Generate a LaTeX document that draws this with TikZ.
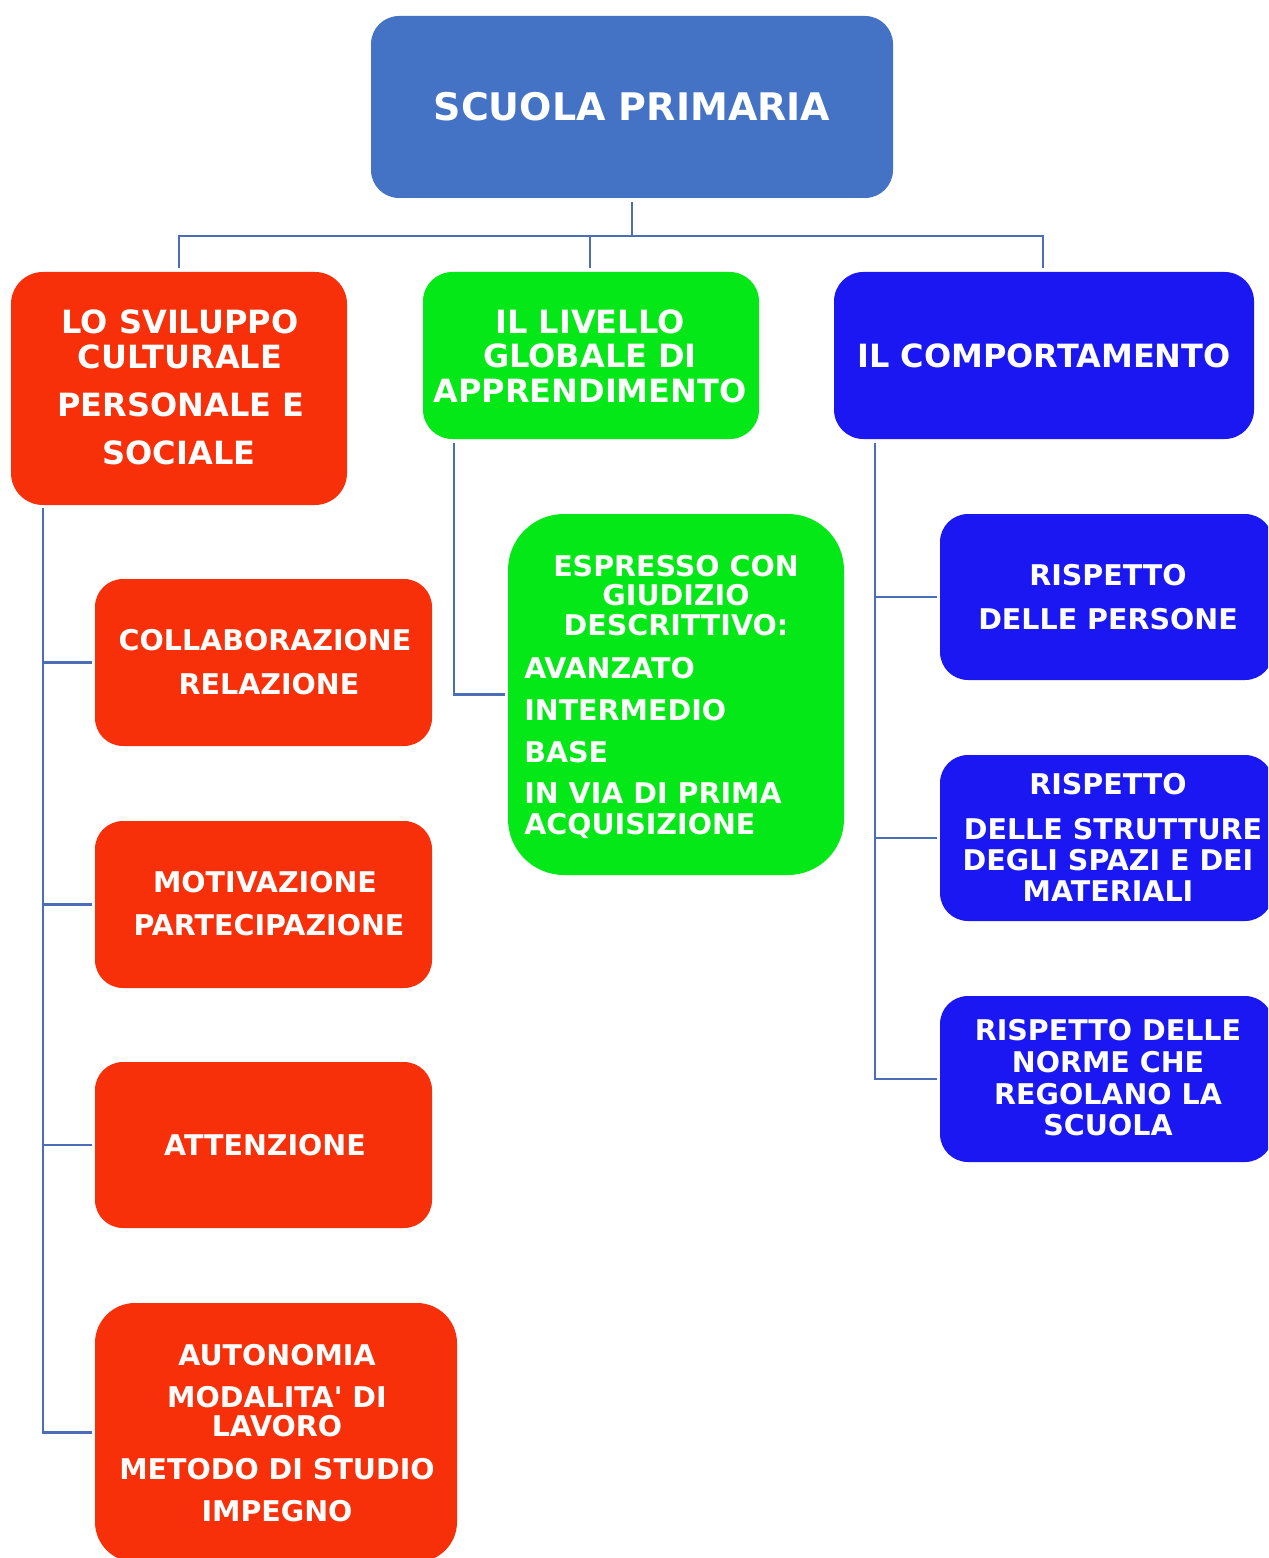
\documentclass[tikz,border=0pt]{standalone}
\usepackage{fontspec}
\setmainfont{DejaVu Sans}
\usetikzlibrary{fit}
\definecolor{titleblue}{HTML}{4472C4}
\definecolor{boxred}{HTML}{F8300A}
\definecolor{boxgreen}{HTML}{05E817}
\definecolor{boxblue}{HTML}{1A17F2}
\definecolor{linecol}{HTML}{4A6EB8}
\tikzset{
  box/.style={draw=none, inner sep=0pt, rounded corners=#1},
  box/.default=22pt,
  conn/.style={draw=linecol, line width=1.8pt},
  tT/.style={text=white, inner sep=0pt, anchor=base, font=\bfseries\fontsize{28.5}{32}\selectfont},
  tA/.style={text=white, inner sep=0pt, anchor=base, font=\bfseries\fontsize{24}{28}\selectfont},
  tB/.style={text=white, inner sep=0pt, anchor=base, font=\bfseries\fontsize{21.4}{25}\selectfont},
}
\begin{document}
\begin{tikzpicture}[x=0.75pt,y=-0.75pt]
\useasboundingbox (0,0) rectangle (1268,1558);
\clip (0,0) rectangle (1268,1558);
\fill[white] (0,0) rectangle (1268,1558);
% boxes
\node[box=21pt, fill=titleblue, fit={(371,16) (893,198)}] (title) {};
\node[box=24pt, fill=boxred, fit={(11,272) (347,505)}] (red1) {};
\node[box=22pt, fill=boxgreen, fit={(423,272) (759,439)}] (green1) {};
\node[box=22pt, fill=boxblue, fit={(834,272) (1254,439)}] (blue1) {};
\node[box=21pt, fill=boxred, fit={(95,579) (432,746)}] (s1) {};
\node[box=21pt, fill=boxred, fit={(95,821) (432,988)}] (s2) {};
\node[box=21pt, fill=boxred, fit={(95,1062) (432,1228)}] (s3) {};
\node[box=30pt, fill=boxred, fit={(95,1303) (457,1562)}] (s4) {};
\node[box=42pt, fill=boxgreen, fit={(508,514) (844,875)}] (g2) {};
\node[box=21pt, fill=boxblue, fit={(940,514) (1273,680)}] (b1) {};
\node[box=21pt, fill=boxblue, fit={(940,755) (1273,921)}] (b2) {};
\node[box=21pt, fill=boxblue, fit={(940,996) (1273,1162)}] (b3) {};
% connectors
\coordinate (j) at (632,236);
\draw[conn] ([yshift=-3pt]title.south) -- (j);
\draw[conn] ([yshift=3pt]red1.north -| 179,0) |- (j) -| ([yshift=3pt]blue1.north -| 1043,0);
\draw[conn] ([yshift=3pt]green1.north -| 590,0) |- (j);
\coordinate (lt) at (43,508);
\draw[conn] (lt) |- ([xshift=-2pt]s4.west);
\draw[conn] (lt |- s1.west) -- ([xshift=-2pt]s1.west);
\draw[conn] (lt |- s2.west) -- ([xshift=-2pt]s2.west);
\draw[conn] (lt |- s3.west) -- ([xshift=-2pt]s3.west);
\coordinate (gt) at (454,443);
\draw[conn] (gt) |- ([xshift=-2pt]g2.west);
\coordinate (bt) at (875,443);
\draw[conn] (bt) |- ([xshift=-2pt]b3.west);
\draw[conn] (bt |- b1.west) -- ([xshift=-2pt]b1.west);
\draw[conn] (bt |- b2.west) -- ([xshift=-2pt]b2.west);
% texts
\node[tT] (tt) at (632,121) {SCUOLA PRIMARIA};
\node[tA] (r1a) at (180,334) {LO SVILUPPO};
\node[tA] (r1b) at (180,368) {CULTURALE};
\node[tA] (r1c) at (181,416) {PERSONALE E};
\node[tA] (r1d) at (179,464) {SOCIALE};
\node[tA] (g1a) at (590,333) {IL LIVELLO};
\node[tA] (g1b) at (590,367) {GLOBALE DI};
\node[tA] (g1c) at (590,402) {APPRENDIMENTO};
\node[tA] (b1a) at (1044,367) {IL COMPORTAMENTO};
\node[tB] (s1a) at (265,650) {COLLABORAZIONE};
\node[tB] (s1b) at (269,694) {RELAZIONE};
\node[tB] (s2a) at (265,892) {MOTIVAZIONE};
\node[tB] (s2b) at (269,935) {PARTECIPAZIONE};
\node[tB] (s3a) at (265,1155) {ATTENZIONE};
\node[tB] (s4a) at (277,1365) {AUTONOMIA};
\node[tB] (s4b) at (277,1407) {MODALITA\textquotesingle{} DI};
\node[tB] (s4c) at (277,1436) {LAVORO};
\node[tB] (s4d) at (277,1479) {METODO DI STUDIO};
\node[tB] (s4e) at (277,1521) {IMPEGNO};
\node[tB] (g2a) at (676,576) {ESPRESSO CON};
\node[tB] (g2b) at (676,605) {GIUDIZIO};
\node[tB] (g2c) at (676,635) {DESCRITTIVO:};
\node[tB, anchor=base west] (g2d) at (524,678) {AVANZATO};
\node[tB, anchor=base west] (g2e) at (524,720) {INTERMEDIO};
\node[tB, anchor=base west] (g2f) at (524,762) {BASE};
\node[tB, anchor=base west] (g2g) at (524,803) {IN VIA DI PRIMA};
\node[tB, anchor=base west] (g2h) at (524,834) {ACQUISIZIONE};
\node[tB] (b1t) at (1108,585) {RISPETTO};
\node[tB] (b1u) at (1108,629) {DELLE PERSONE};
\node[tB] (b2t) at (1108,794) {RISPETTO};
\node[tB] (b2u) at (1113,839) {DELLE STRUTTURE};
\node[tB] (b2v) at (1108,870) {DEGLI SPAZI E DEI};
\node[tB] (b2w) at (1108,901) {MATERIALI};
\node[tB] (b3t) at (1108,1040) {RISPETTO DELLE};
\node[tB] (b3u) at (1108,1072) {NORME CHE};
\node[tB] (b3v) at (1108,1104) {REGOLANO LA};
\node[tB] (b3w) at (1108,1135) {SCUOLA};
\end{tikzpicture}
\end{document}
